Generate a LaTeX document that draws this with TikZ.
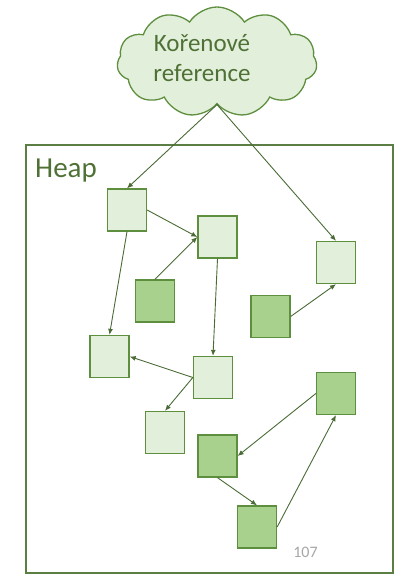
\documentclass[tikz,border=0pt]{standalone}
\usepackage{fontspec}
\setmainfont{Carlito}
\usetikzlibrary{shapes.symbols,arrows.meta}
\definecolor{lightfill}{HTML}{E2EFDA}
\definecolor{darkfill}{HTML}{A9D18E}
\definecolor{boxborder}{HTML}{5E8F3E}
\definecolor{heapborder}{HTML}{5A7E44}
\definecolor{txtgreen}{HTML}{4F7136}
\definecolor{arrowgreen}{HTML}{4A6B35}
\definecolor{numgray}{HTML}{A6A6A6}
\tikzset{
  obj/.style={draw=boxborder, line width=1.3pt, minimum width=39pt, minimum height=42pt, inner sep=0pt},
  lightobj/.style={obj, fill=lightfill},
  darkobj/.style={obj, fill=darkfill},
  ref/.style={draw=arrowgreen, line width=0.9pt, -{Latex[length=6pt,width=5pt]}},
}
\begin{document}
\begin{tikzpicture}[x=1pt,y=-1pt]
\useasboundingbox (0,0) rectangle (403,586);
% cloud
\node[cloud, cloud puffs=11, cloud puff arc=115, draw=boxborder, line width=1.3pt, fill=lightfill,
      minimum width=200pt, minimum height=110pt, inner sep=0pt] (roots) at (217,62) {};
\node[font=\fontsize{25}{30}\selectfont, text=txtgreen, align=center] (rootstext) at (202,58) {Kořenové\\reference};
% heap
\draw[heapborder, line width=1.8pt] (26,145) rectangle (393,573);
\node[font=\fontsize{29}{34}\selectfont, text=txtgreen, anchor=base west, inner sep=0pt] (heaplabel) at (35,177) {Heap};
\node[font=\fontsize{16}{19}\selectfont, text=numgray] (pagenum) at (305.5,552) {107};
% objects
\node[lightobj] (A) at (127,210) {};
\node[lightobj] (B) at (217.5,237) {};
\node[darkobj]  (C) at (155,301) {};
\node[lightobj] (D) at (336,262.5) {};
\node[darkobj]  (E) at (270.5,316.5) {};
\node[lightobj] (F) at (109.5,356.5) {};
\node[lightobj] (G) at (213,377.5) {};
\node[lightobj] (H) at (165,432.5) {};
\node[darkobj]  (I) at (336,393.5) {};
\node[darkobj]  (J) at (217.5,456) {};
\node[darkobj]  (K) at (257,527) {};
% references
\draw[ref] (roots.south) -- (A.north);
\draw[ref] (roots.south) -- (D.north);
\draw[ref] (A.east) -- (B.west);
\draw[ref] (C.north) -- (B.west);
\draw[ref] (A.south) -- (F.north);
\draw[ref] (B.south) -- (G.north);
\draw[ref] (E.east) -- (D.south);
\draw[ref] (G.west) -- (F.east);
\draw[ref] (G.west) -- (H.north);
\draw[ref] (I.west) -- (J.east);
\draw[ref] (J.south) -- (K.north);
\draw[ref] (K.east) -- (I.south);
\end{tikzpicture}
\end{document}
